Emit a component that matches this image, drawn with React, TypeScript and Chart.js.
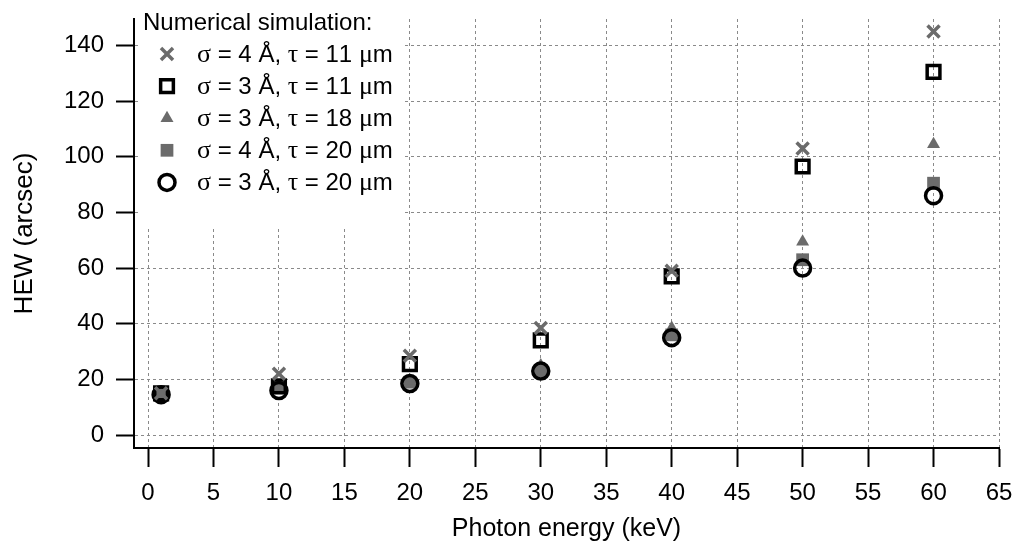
import React, { useEffect, useRef } from 'react';
import { Chart, registerables } from 'chart.js';
import { drawPoint } from 'chart.js/helpers';

Chart.register(...registerables);

// ---- data ----
const energies = [1, 10, 20, 30, 40, 50, 60];
const hewS4T11 = [15, 22, 28.5, 38.5, 59, 103, 145];
const hewS3T11 = [15, 17.5, 25.5, 34, 57, 96.5, 130.5];
const hewS3T18 = [15, 17, 19.5, 25, 38.5, 69.5, 104.5];
const hewS4T20 = [14.5, 17, 19, 23, 36, 63, 90.5];
const hewS3T20 = [14.5, 16, 18.5, 23, 35, 60, 86];

const seriesLabels = [
  'σ = 4 Å, τ = 11 μm',
  'σ = 3 Å, τ = 11 μm',
  'σ = 3 Å, τ = 18 μm',
  'σ = 4 Å, τ = 20 μm',
  'σ = 3 Å, τ = 20 μm',
];
const legendTitle = 'Numerical simulation:';
const xTickValues = [0, 5, 10, 15, 20, 25, 30, 35, 40, 45, 50, 55, 60, 65];
const yTickValues = [0, 20, 40, 60, 80, 100, 120, 140];
const xTitle = 'Photon energy (keV)';
const yTitle = 'HEW (arcsec)';

const SANS = '"Liberation Sans", Arial, sans-serif';
const SERIF = '"Liberation Serif", "Times New Roman", serif';
const GREY = '#6b6b6b';

const toPoints = (ys: number[]) => energies.map((x, i) => ({ x, y: ys[i] }));

function drawRich(ctx: CanvasRenderingContext2D, text: string, x: number, y: number) {
  const re = /[\u0370-\u03FF\u00B5]/;
  let cx = x;
  for (const ch of Array.from(text)) {
    ctx.font = re.test(ch) ? `26px ${SERIF}` : `24px ${SANS}`;
    ctx.fillText(ch, cx, y);
    cx += ctx.measureText(ch).width;
  }
}

const boxLegend = {
  id: 'boxLegend',
  afterDatasetsDraw(chart: any) {
    const ctx: CanvasRenderingContext2D = chart.ctx;
    ctx.save();
    ctx.fillStyle = '#ffffff';
    ctx.fillRect(140, 0, 264, 226);
    ctx.fillStyle = '#000';
    ctx.textBaseline = 'middle';
    ctx.textAlign = 'left';
    ctx.font = `24px ${SANS}`;
    ctx.fillText(legendTitle, 143, 23);
    chart.data.datasets.forEach((ds: any, i: number) => {
      const y = 55 + i * 32.1;
      ctx.save();
      ctx.fillStyle = ds.pointBackgroundColor;
      ctx.strokeStyle = ds.pointBorderColor;
      ctx.lineWidth = ds.pointBorderWidth;
      drawPoint(ctx, {
        pointStyle: ds.pointStyle,
        radius: ds.pointRadius,
        rotation: 0,
        borderWidth: ds.pointBorderWidth,
      } as any, 167, y - 1);
      ctx.restore();
      ctx.fillStyle = '#000';
      drawRich(ctx, ds.label, 197, y);
    });
    ctx.restore();
  },
};

export default function App() {
  const ref = useRef<HTMLCanvasElement>(null);
  useEffect(() => {
    if (!ref.current) return;
    Chart.defaults.font.family = SANS;
    const chart = new Chart(ref.current, {
      type: 'scatter',
      data: {
        datasets: [
          {
            label: seriesLabels[0], data: toPoints(hewS4T11), order: 0,
            pointStyle: 'crossRot', pointRadius: 8.5, pointBorderWidth: 3.5,
            pointBackgroundColor: GREY, pointBorderColor: GREY,
          },
          {
            label: seriesLabels[1], data: toPoints(hewS3T11), order: 1,
            pointStyle: 'rect', pointRadius: 9, pointBorderWidth: 3.5,
            pointBackgroundColor: 'rgba(0,0,0,0)', pointBorderColor: '#000',
          },
          {
            label: seriesLabels[2], data: toPoints(hewS3T18), order: 3,
            pointStyle: 'triangle', pointRadius: 7.5, pointBorderWidth: 0,
            pointBackgroundColor: GREY, pointBorderColor: GREY,
          },
          {
            label: seriesLabels[3], data: toPoints(hewS4T20), order: 4,
            pointStyle: 'rect', pointRadius: 9, pointBorderWidth: 0,
            pointBackgroundColor: GREY, pointBorderColor: GREY,
          },
          {
            label: seriesLabels[4], data: toPoints(hewS3T20), order: 2,
            pointStyle: 'circle', pointRadius: 8, pointBorderWidth: 3.5,
            pointBackgroundColor: 'rgba(0,0,0,0)', pointBorderColor: '#000',
          },
        ] as any,
      },
      options: {
        animation: false,
        responsive: false,
        devicePixelRatio: 1,
        layout: { padding: { top: 19, right: 16, left: 0, bottom: 0 } },
        plugins: { legend: { display: false }, tooltip: { enabled: false } },
        scales: {
          x: {
            type: 'linear',
            min: -1.07,
            max: 65,
            afterBuildTicks: (s: any) => { s.ticks = xTickValues.map((v) => ({ value: v })); },
            afterFit: (s: any) => { s.height = 102; s.paddingLeft = 0; s.paddingRight = 0; },
            grid: { color: '#8a8a8a', lineWidth: 1, drawTicks: true, tickLength: 19, tickColor: '#000', tickWidth: 2 },
            border: { display: true, color: '#000', width: 2, dash: [3, 3] },
            ticks: { color: '#000', font: { size: 24, family: SANS }, padding: 12, maxRotation: 0, autoSkip: false },
            title: { display: true, text: xTitle, color: '#000', font: { size: 25, family: SANS }, padding: { top: 0, bottom: 6 } },
          },
          y: {
            type: 'linear',
            min: -4.65,
            max: 149.5,
            afterBuildTicks: (s: any) => { s.ticks = yTickValues.map((v) => ({ value: v })); },
            afterFit: (s: any) => { s.width = 134; s.paddingTop = 0; s.paddingBottom = 0; },
            grid: { color: '#8a8a8a', lineWidth: 1, drawTicks: true, tickLength: 18, tickColor: '#000', tickWidth: 2 },
            border: { display: true, color: '#000', width: 2, dash: [3, 3] },
            ticks: { color: '#000', font: { size: 24, family: SANS }, padding: 12, autoSkip: false },
            title: { display: true, text: yTitle, color: '#000', font: { size: 26, family: SANS }, padding: { top: 9, bottom: 0 } },
          },
        },
      } as any,
      plugins: [boxLegend],
    });
    return () => chart.destroy();
  }, []);
  return (
    <div style={{ position: 'absolute', left: 0, top: 0, width: 1015, height: 550, background: '#fff' }}>
      <canvas ref={ref} width={1015} height={550} style={{ display: 'block' }} />
    </div>
  );
}
